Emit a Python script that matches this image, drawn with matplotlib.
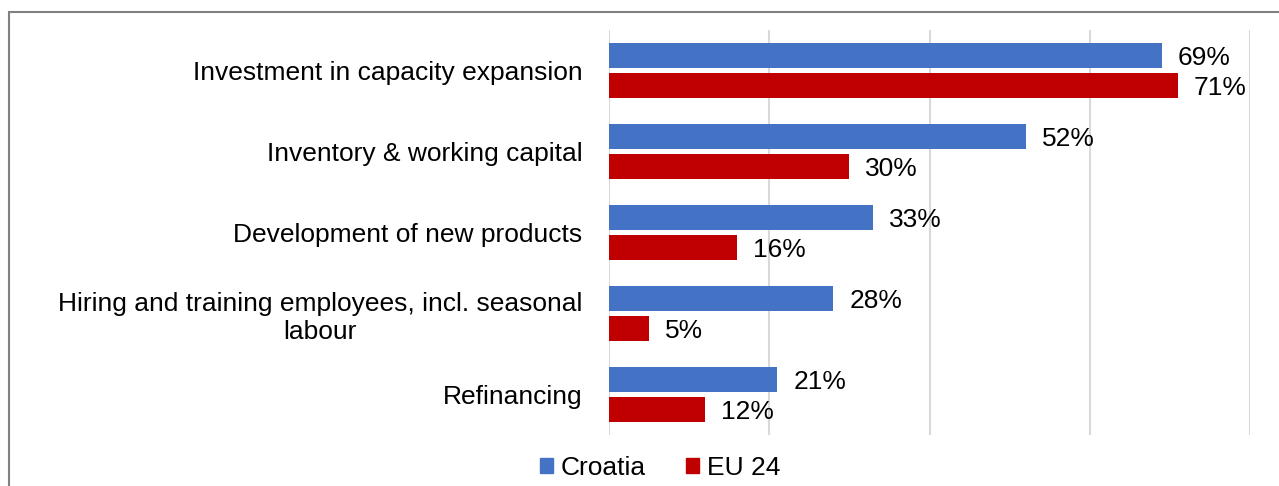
import numpy as np
import matplotlib.pyplot as plt
from matplotlib.patches import Rectangle, Patch

plt.rcParams['font.family'] = ['Liberation Sans', 'DejaVu Sans']

categories = ['Investment in capacity expansion',
              'Inventory & working capital',
              'Development of new products',
              'Hiring and training employees, incl. seasonal\nlabour',
              'Refinancing']
croatia = [69, 52, 33, 28, 21]
eu24 = [71, 30, 16, 5, 12]

blue = '#4472C4'
red = '#C00000'
fs = 19

fig = plt.figure(figsize=(12.79, 4.86), dpi=100)
ax = fig.add_axes([609/1279, 1 - 435/486, (1250-609)/1279, 405/486])

y = np.arange(len(categories))
h = 0.31
off = 0.185
ax.barh(y - off, croatia, height=h, color=blue, label='Croatia', zorder=3)
ax.barh(y + off, eu24, height=h, color=red, label='EU 24', zorder=3)

for yi, c, e in zip(y, croatia, eu24):
    ax.text(c + 2, yi - off + 0.03, f'{c}%', va='center', ha='left', fontsize=fs)
    ax.text(e + 2, yi + off + 0.03, f'{e}%', va='center', ha='left', fontsize=fs)

ax.set_xlim(0, 80)
ax.set_ylim(len(categories) - 0.5, -0.5)
ax.set_xticks([0, 20, 40, 60, 80])
ax.xaxis.grid(True, color='#D9D9D9', linewidth=1.5, zorder=0)
ax.tick_params(axis='x', labelbottom=False, length=0)
ax.tick_params(axis='y', length=0, pad=19)
ax.set_yticks(y)
ax.set_yticklabels(categories, fontsize=fs, ha='right', multialignment='center',
                   linespacing=1.2)
for s in ax.spines.values():
    s.set_visible(False)

handles = [Patch(color=blue, label='Croatia'), Patch(color=red, label='EU 24')]
fig.legend(handles=handles, loc='center', bbox_to_anchor=(660/1279, 1 - 468/486),
           ncol=2, frameon=False, fontsize=fs, handlelength=0.5, handleheight=0.5,
           handletextpad=0.3, columnspacing=1.5)

# outer frame
fig.patches.append(Rectangle((9/1279, -0.1), 1.2, 1 - 12/486 + 0.1, transform=fig.transFigure,
                             fill=False, edgecolor='#808080', linewidth=1.5))

plt.savefig('out.png', dpi=100)
plt.close()
